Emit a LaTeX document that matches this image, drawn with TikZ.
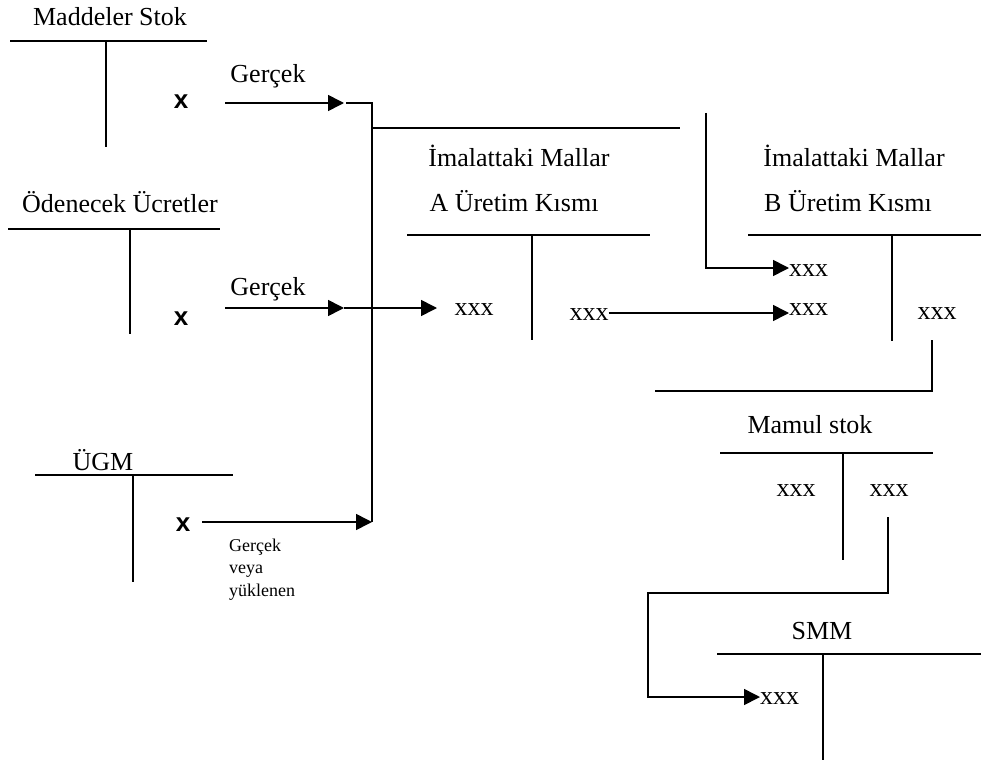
\documentclass[tikz,border=0pt]{standalone}
\usepackage{fontspec}
\setmainfont{Liberation Serif}
\newfontfamily\arialfont{Liberation Sans}
\usetikzlibrary{arrows.meta}
\tikzset{
  lbl/.style={anchor=base, inner sep=0pt, font=\fontsize{26}{30}\selectfont},
  amt/.style={anchor=base, inner sep=0pt, font=\fontsize{26}{30}\selectfont},
  xsans/.style={anchor=base, inner sep=0pt, font=\arialfont\bfseries\fontsize{26}{30}\selectfont},
  small/.style={anchor=base west, inner sep=0pt, font=\fontsize{18}{22}\selectfont},
  tline/.style={line width=1.6pt},
  flow/.style={line width=1.6pt, -{Triangle[length=16pt,width=16pt]}},
}
\begin{document}
\begin{tikzpicture}[x=1pt,y=-1pt]
\useasboundingbox (0,0) rectangle (981,762);

% Maddeler Stok account
\node[lbl] (ms) at (110,26) {Maddeler Stok};
\draw[tline] (10,41) -- (207,41);
\draw[tline] (106,41) -- (106,147);
\node[xsans] (msx) at (181,109) {x};

% Ödenecek Ücretler account
\node[lbl] (ou) at (120,212) {Ödenecek Ücretler};
\draw[tline] (8,229) -- (220,229);
\draw[tline] (130,229) -- (130,334);
\node[xsans] (oux) at (181,325) {x};

% ÜGM account
\node[lbl] (ugm) at (103,470) {ÜGM};
\draw[tline] (35,475) -- (233,475);
\draw[tline] (133,475) -- (133,582);
\node[xsans] (ugmx) at (183,531) {x};

% labels on the inflows
\node[lbl] (g1) at (268,83) {Gerçek};
\node[lbl] (g2) at (268,295) {Gerçek};
\node[small] (g3a) at (229,551) {Gerçek};
\node[small] (g3b) at (229,573) {veya};
\node[small] (g3c) at (229,596) {yüklenen};

% İmalattaki Mallar A
\node[lbl] (ima) at (519,167) {İmalattaki Mallar};
\node[lbl] (aur) at (514,211) {A Üretim Kısmı};
\draw[tline] (407,235) -- (650,235);
\draw[tline] (532,235) -- (532,340);
\node[amt] (axl) at (474,315) {xxx};
\node[amt] (axr) at (589,320) {xxx};

% İmalattaki Mallar B
\node[lbl] (imb) at (854,167) {İmalattaki Mallar};
\node[lbl] (bur) at (848,211) {B Üretim Kısmı};
\draw[tline] (748,235) -- (981,235);
\draw[tline] (892,235) -- (892,341);
\node[amt, anchor=base west] (bx1) at (789,276) {xxx};
\node[amt, anchor=base west] (bx2) at (789,315) {xxx};
\node[amt] (bxr) at (937,319) {xxx};

% Mamul stok
\node[lbl] (mam) at (810,433) {Mamul stok};
\draw[tline] (720,453) -- (933,453);
\draw[tline] (843,453) -- (843,560);
\node[amt] (mxl) at (796,496) {xxx};
\node[amt] (mxr) at (889,496) {xxx};

% SMM
\node[lbl] (smm) at (822,639) {SMM};
\draw[tline] (717,654) -- (981,654);
\draw[tline] (823,654) -- (823,760);
\node[amt, anchor=base west] (sx) at (760,704) {xxx};

% collecting line for the three inflows
\coordinate (j1) at (372,103);
\coordinate (j3) at (372,522);
\draw[flow] (225,103) -- (344,103);
\draw[tline] (346,103) -- (j1) -- (j3);
\draw[flow] (225,308) -- (344,308);
\draw[flow] (344,308) -- (437,308);
\draw[flow] (202,522) -- (j3);

% transfer to B department
\draw[tline] (372,128) -- (680,128);
\draw[flow] (706,113) -- (706,268) -- (bx1.west |- 0,268);
\draw[flow] (axr.east |- 0,313) -- (bx2.west |- 0,313);

% B to finished goods
\draw[tline] (932,340) -- (932,391) -- (655,391);

% finished goods to cost of sales
\draw[flow] (888,517) -- (888,593) -- (648,593) -- (648,697) -- (sx.west |- 0,697);
\end{tikzpicture}
\end{document}
